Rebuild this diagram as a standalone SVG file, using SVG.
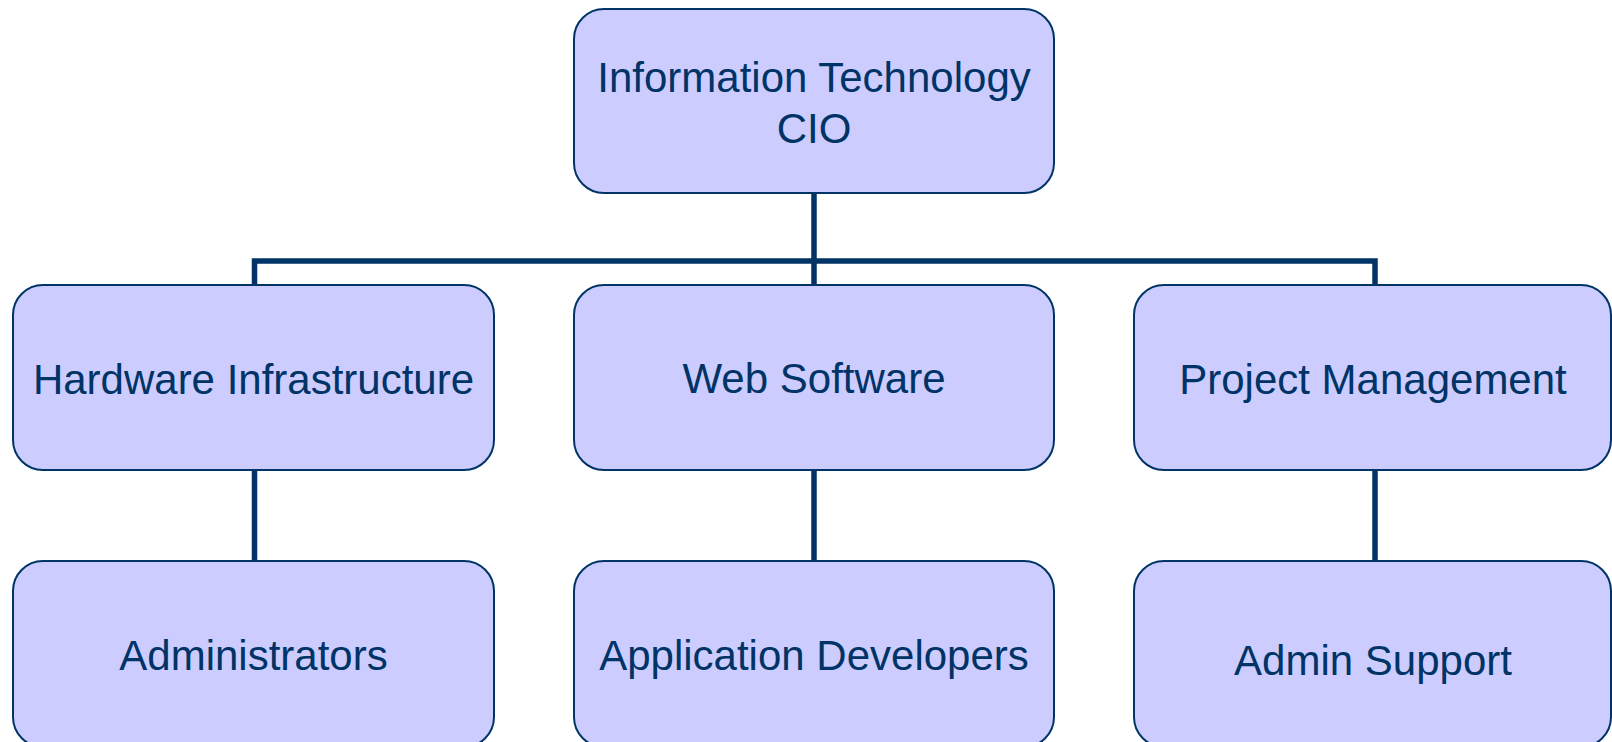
<svg xmlns="http://www.w3.org/2000/svg" width="1612" height="742" viewBox="0 0 1612 742">
<style>
.box{fill:#CCCCFF;stroke:#003366;stroke-width:2}
.lbl{font-family:"Liberation Sans",Arial,sans-serif;font-size:42px;fill:#003366;text-anchor:middle}
.conn{fill:none;stroke:#003366;stroke-width:5.5}
</style>
<rect width="1612" height="742" fill="#FFFFFF"/>
<g id="connectors">
<path class="conn" d="M814,193 V285"/>
<path class="conn" d="M254.5,285 V261 H1375 V285"/>
<path class="conn" d="M254.5,470 V561"/>
<path class="conn" d="M814,470 V561"/>
<path class="conn" d="M1375,470 V561"/>
</g>
<g id="cio">
<rect class="box" x="574" y="9" width="480" height="184" rx="30"/>
<text class="lbl" x="814" y="92">Information Technology</text>
<text class="lbl" x="814" y="143">CIO</text>
</g>
<g id="hardware">
<rect class="box" x="13" y="285" width="481" height="185" rx="30"/>
<text class="lbl" x="253.5" y="394">Hardware Infrastructure</text>
</g>
<g id="web">
<rect class="box" x="574" y="285" width="480" height="185" rx="30"/>
<text class="lbl" x="814" y="393">Web Software</text>
</g>
<g id="pm">
<rect class="box" x="1134" y="285" width="477" height="185" rx="30"/>
<text class="lbl" x="1373" y="394">Project Management</text>
</g>
<g id="admins">
<rect class="box" x="13" y="561" width="481" height="186" rx="30"/>
<text class="lbl" x="253.5" y="670">Administrators</text>
</g>
<g id="appdev">
<rect class="box" x="574" y="561" width="480" height="186" rx="30"/>
<text class="lbl" x="814" y="670">Application Developers</text>
</g>
<g id="adminsupport">
<rect class="box" x="1134" y="561" width="477" height="186" rx="30"/>
<text class="lbl" x="1373" y="675">Admin Support</text>
</g>
</svg>
